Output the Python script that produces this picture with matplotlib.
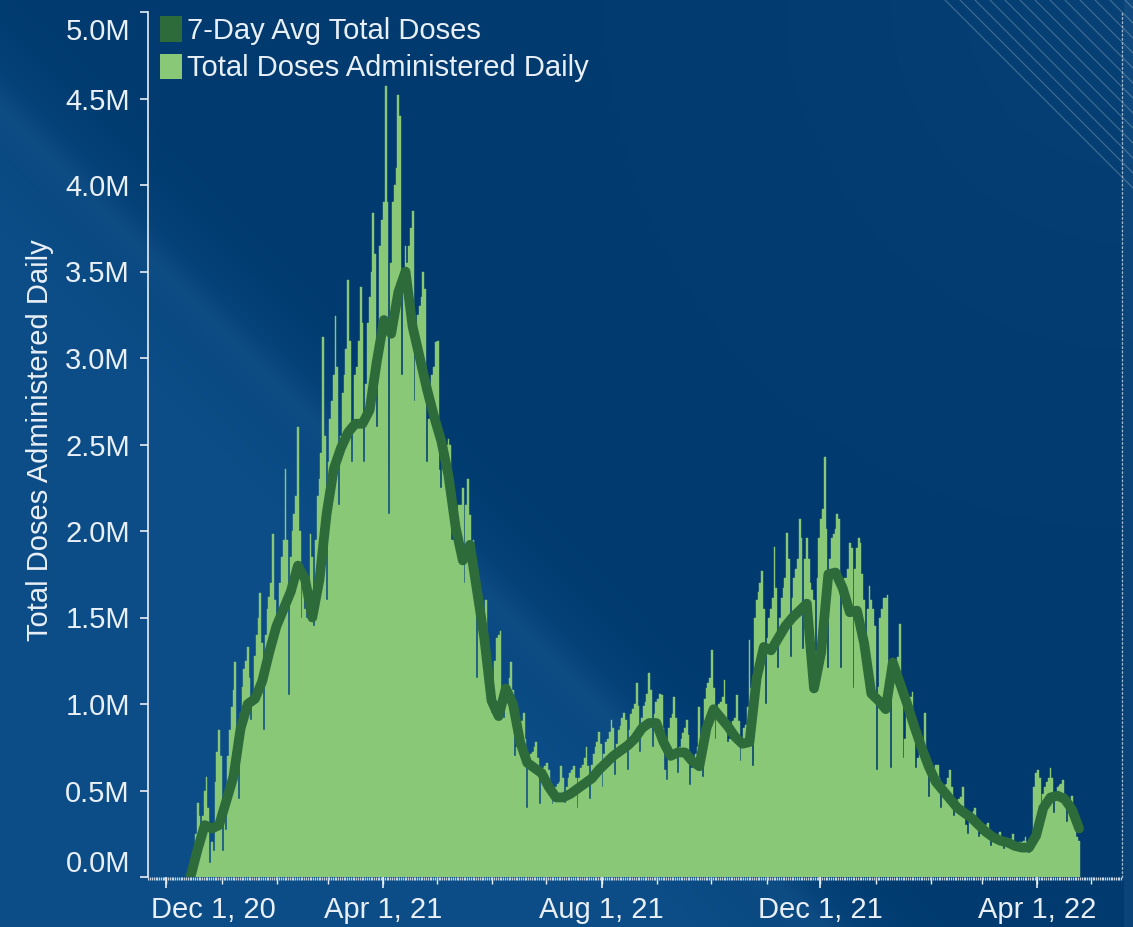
import numpy as np
import pandas as pd
import matplotlib
matplotlib.use("Agg")
import matplotlib.pyplot as plt
import matplotlib.dates as mdates
from matplotlib.patches import Patch
from matplotlib.transforms import ScaledTranslation
from matplotlib.ticker import FixedLocator, FuncFormatter

# ---------------- data ----------------
start_date = "2020-12-14"   # first day of data (a Monday)

# daily doses, millions; each row = one week Mon..Sun
doses_w00_w12 = [
    0.03, 0.10, 0.15, 0.25, 0.43, 0.35, 0.22,
    0.35, 0.50, 0.58, 0.40, 0.08, 0.20, 0.15,
    0.55, 0.72, 0.85, 0.70, 0.15, 0.35, 0.27,
    0.70, 0.85, 0.98, 1.08, 1.24, 0.80, 0.45,
    0.95, 1.10, 1.20, 1.25, 1.33, 1.15, 0.91,
    1.00, 1.28, 1.40, 1.50, 1.64, 1.35, 0.85,
    1.40, 1.55, 1.62, 1.70, 1.98, 1.60, 1.41,
    1.50, 1.70, 1.85, 1.95, 2.36, 1.95, 1.05,
    1.85, 2.00, 2.10, 2.20, 2.60, 2.00, 1.50,
    1.70, 1.55, 1.50, 1.62, 1.98, 1.85, 1.45,
    1.95, 2.20, 2.30, 2.45, 3.12, 2.55, 1.60,
    2.40, 2.65, 2.75, 2.90, 3.24, 2.95, 2.15,
    2.55, 2.80, 2.90, 3.05, 3.45, 3.10, 2.40,
]
doses_w13_w25 = [
    2.60, 2.90, 2.95, 3.10, 3.41, 3.20, 2.40,
    2.85, 3.20, 3.35, 3.50, 3.84, 3.60, 2.60,
    3.10, 3.65, 3.80, 3.90, 4.57, 3.90, 2.10,
    3.55, 3.90, 4.00, 4.10, 4.52, 4.40, 2.90,
    3.40, 3.65, 3.55, 3.65, 3.75, 3.85, 2.75,
    3.00, 3.25, 3.30, 3.35, 3.50, 3.40, 2.40,
    2.65, 2.85, 2.90, 2.95, 3.09, 3.10, 2.35,
    2.25, 2.40, 2.45, 2.50, 2.53, 2.50, 1.95,
    1.95, 2.10, 2.10, 2.15, 2.15, 2.25, 1.70,
    2.15, 2.30, 2.09, 1.85, 1.95, 1.60, 1.15,
    1.55, 1.60, 1.55, 1.50, 1.60, 1.30, 1.05,
    0.95, 1.10, 1.25, 1.38, 1.40, 1.42, 1.00,
    0.92, 1.03, 1.08, 1.15, 1.24, 1.08, 0.70,
]
doses_w26_w38 = [
    0.75, 0.82, 0.86, 0.90, 0.95, 0.80, 0.40,
    0.63, 0.71, 0.72, 0.75, 0.78, 0.69, 0.42,
    0.57, 0.63, 0.64, 0.66, 0.62, 0.52, 0.42,
    0.45, 0.52, 0.54, 0.55, 0.64, 0.57, 0.43,
    0.52, 0.57, 0.60, 0.62, 0.64, 0.57, 0.40,
    0.57, 0.63, 0.65, 0.69, 0.75, 0.64, 0.45,
    0.65, 0.71, 0.75, 0.78, 0.84, 0.77, 0.52,
    0.71, 0.78, 0.80, 0.84, 0.91, 0.86, 0.59,
    0.77, 0.85, 0.87, 0.92, 0.95, 0.91, 0.62,
    0.85, 0.94, 0.97, 1.00, 1.12, 0.99, 0.72,
    0.92, 0.99, 1.01, 1.06, 1.18, 1.08, 0.75,
    0.94, 1.01, 1.03, 1.06, 1.05, 0.86, 0.62,
    0.56, 0.86, 0.92, 0.94, 1.04, 0.92, 0.60,
]
doses_w39_w51 = [
    0.75, 0.80, 0.83, 0.86, 0.91, 0.82, 0.53,
    0.63, 0.69, 0.71, 0.75, 0.98, 0.80, 0.58,
    1.03, 1.09, 1.12, 1.15, 1.31, 1.09, 0.80,
    0.94, 1.00, 1.01, 1.04, 1.14, 1.00, 0.78,
    0.80, 0.87, 0.90, 0.92, 1.05, 0.90, 0.67,
    0.80, 0.86, 0.88, 0.98, 1.37, 1.09, 0.64,
    1.50, 1.60, 1.65, 1.70, 1.77, 1.55, 1.00,
    1.38, 1.50, 1.55, 1.61, 1.91, 1.67, 1.21,
    1.50, 1.61, 1.67, 1.73, 1.99, 1.84, 1.27,
    1.61, 1.73, 1.78, 1.84, 2.07, 1.96, 1.32,
    1.84, 1.96, 1.84, 1.70, 1.66, 1.60, 1.30,
    1.73, 1.96, 2.07, 2.13, 2.43, 2.01, 1.21,
    1.84, 1.96, 1.98, 2.01, 2.10, 2.07, 1.21,
]
doses_w52_w64 = [
    1.61, 1.73, 1.73, 1.78, 1.93, 1.90, 1.09,
    1.78, 1.90, 1.96, 1.93, 1.75, 1.60, 1.40,
    1.55, 1.68, 1.60, 1.55, 1.45, 0.62, 1.10,
    1.50, 1.55, 1.61, 1.61, 1.63, 1.15, 0.63,
    1.15, 1.21, 1.21, 1.27, 1.46, 1.04, 0.69,
    0.80, 0.98, 1.01, 1.04, 1.07, 0.92, 0.63,
    0.69, 0.75, 0.76, 0.78, 0.95, 0.69, 0.46,
    0.57, 0.61, 0.63, 0.65, 0.65, 0.57, 0.40,
    0.49, 0.53, 0.54, 0.57, 0.62, 0.52, 0.35,
    0.41, 0.44, 0.45, 0.46, 0.52, 0.40, 0.30,
    0.25, 0.36, 0.37, 0.38, 0.40, 0.34, 0.23,
    0.25, 0.28, 0.29, 0.30, 0.31, 0.28, 0.18,
    0.21, 0.23, 0.24, 0.24, 0.26, 0.23, 0.16,
]
doses_w65_w70 = [
    0.18, 0.21, 0.21, 0.22, 0.25, 0.20, 0.15,
    0.17, 0.20, 0.20, 0.21, 0.23, 0.20, 0.14,
    0.18, 0.23, 0.52, 0.60, 0.62, 0.57, 0.35,
    0.48, 0.52, 0.55, 0.57, 0.63, 0.57, 0.37,
    0.48, 0.52, 0.53, 0.54, 0.56, 0.48, 0.32,
    0.41, 0.44, 0.47, 0.35, 0.28, 0.23, 0.21,
]

# 7-day average, millions, read every 4th day starting at start_date
avg7_every4d_a = [
    0.00, 0.16, 0.30, 0.28, 0.30, 0.44, 0.58, 0.86, 1.00, 1.03,
    1.13, 1.30, 1.45, 1.55, 1.65, 1.80, 1.72, 1.50, 1.72, 2.10,
    2.36, 2.48, 2.57, 2.62, 2.62, 2.70, 2.98, 3.22, 3.14, 3.38,
    3.50, 3.18, 3.00, 2.82, 2.66, 2.52, 2.32, 2.02, 1.83, 1.92,
    1.65, 1.38, 1.02, 0.93, 1.09, 1.00, 0.78, 0.66, 0.63, 0.60,
    0.52, 0.46, 0.46, 0.48, 0.51, 0.54, 0.57, 0.62, 0.66, 0.70,
]
avg7_every4d_b = [
    0.73, 0.76, 0.80, 0.86, 0.89, 0.89, 0.78, 0.70, 0.72, 0.72,
    0.67, 0.64, 0.86, 0.97, 0.92, 0.87, 0.81, 0.77, 0.78, 1.15,
    1.33, 1.31, 1.38, 1.45, 1.50, 1.54, 1.58, 1.09, 1.30, 1.75,
    1.76, 1.67, 1.53, 1.54, 1.35, 1.06, 1.02, 0.97, 1.24, 1.12,
    1.00, 0.87, 0.75, 0.64, 0.55, 0.50, 0.45, 0.40, 0.37, 0.34,
    0.30, 0.26, 0.23, 0.21, 0.20, 0.18, 0.17, 0.17, 0.24, 0.40,
    0.46, 0.47, 0.45, 0.39, 0.28,
]

y_ticks = [0.0, 0.5, 1.0, 1.5, 2.0, 2.5, 3.0, 3.5, 4.0, 4.5, 5.0]
x_tick_dates = ["2020-12-01", "2021-04-01", "2021-08-01", "2021-12-01", "2022-04-01"]
x_tick_labels = ["Dec 1, 20", "Apr 1, 21", "Aug 1, 21", "Dec 1, 21", "Apr 1, 22"]
series_names = ["7-Day Avg Total Doses", "Total Doses Administered Daily"]
y_title = "Total Doses Administered Daily"

# ---------------- assemble ----------------
daily = np.array(doses_w00_w12 + doses_w13_w25 + doses_w26_w38 +
                 doses_w39_w51 + doses_w52_w64 + doses_w65_w70) * 1e6
dates = pd.date_range(start_date, periods=len(daily), freq="D")
avg7 = np.array(avg7_every4d_a + avg7_every4d_b) * 1e6
avg_dates = pd.date_range(start_date, periods=len(avg7), freq="4D") + pd.Timedelta(hours=12)

# ---------------- style ----------------
LIGHT_GREEN = "#88c877"
DARK_GREEN = "#2e6b3b"
TXT = "#e9eff6"
FS = 21
plt.rcParams["font.family"] = ["Liberation Sans", "DejaVu Sans"]

W, H = 1133, 927
fig = plt.figure(figsize=(W / 100, H / 100), dpi=100)

# background (styling only)
bg = fig.add_axes([0, 0, 1, 1], zorder=-10)
yy, xx = np.mgrid[0:H, 0:W].astype(float)
q = yy - xx
light = np.array([12, 77, 135]) / 255.0
dark = np.array([0, 58, 110]) / 255.0
t = np.clip((q + 60) / 300.0, 0, 1)
t = t * t * (3 - 2 * t)
img = dark[None, None, :] * (1 - t[..., None]) + light[None, None, :] * t[..., None]
img = img + 0.025 * np.exp(-((q - 110) / 25.0) ** 2)[..., None]
r = np.hypot(xx - W, yy)
img = img + 0.03 * np.exp(-r / 260.0)[..., None]
img[:, 1124:, :] = img[:, 1124:, :] + 0.035
img = np.clip(img, 0, 1)
bg.imshow(img, aspect="auto", extent=[0, W, H, 0], interpolation="bilinear")
for x0 in np.arange(945, 1140, 15):
    bg.plot([x0, x0 + 320], [0, 320], color="white", lw=0.8, alpha=0.25)
bg.set_xlim(0, W)
bg.set_ylim(H, 0)
bg.axis("off")

# main axes
ax = fig.add_axes([148 / W, 1 - 877 / H, (1122 - 148) / W, (877 - 12) / H])
ax.patch.set_alpha(0)

ax.bar(dates, daily, width=1.0, align="edge", color=LIGHT_GREEN,
       edgecolor=LIGHT_GREEN, linewidth=0.3, zorder=2)
ax.plot(avg_dates, avg7, color=DARK_GREEN, lw=7,
        solid_capstyle="round", solid_joinstyle="round", zorder=3)

t0 = pd.Timestamp(start_date)
ax.set_xlim(t0 - pd.Timedelta(days=23.2), t0 + pd.Timedelta(days=520.4))
ax.set_ylim(0, 5.0e6)

# y axis
ax.yaxis.set_major_locator(FixedLocator([v * 1e6 for v in y_ticks]))
ax.yaxis.set_major_formatter(FuncFormatter(lambda v, p: f"{v / 1e6:.1f}M"))
ax.tick_params(axis="y", colors=TXT, labelcolor=TXT, labelsize=FS,
               length=6, width=1.2, pad=7, direction="out")
for sp in ["top", "bottom"]:
    ax.spines[sp].set_visible(False)
ax.spines["left"].set_color(TXT)
ax.spines["left"].set_linewidth(1.2)
ax.spines["right"].set_color("#9fb6cc")
ax.spines["right"].set_linewidth(1.0)
ax.spines["right"].set_linestyle((0, (1, 2)))

# x axis
ax.xaxis.set_major_locator(FixedLocator(mdates.date2num(pd.to_datetime(x_tick_dates))))
ax.xaxis.set_major_formatter(FuncFormatter(
    lambda v, p: x_tick_labels[p] if p is not None and p < len(x_tick_labels) else ""))
ax.xaxis.set_minor_locator(mdates.DayLocator())
ax.tick_params(axis="x", which="major", colors=TXT, labelcolor=TXT, labelsize=FS,
               length=8, width=1.2, pad=6)
ax.tick_params(axis="x", which="minor", colors="#c9d6e3", length=2.2, width=0.9)

sec = ax.secondary_xaxis("bottom")
sec.xaxis.set_major_locator(mdates.MonthLocator())
sec.xaxis.set_major_formatter(FuncFormatter(lambda v, p: ""))
sec.tick_params(axis="x", colors=TXT, length=5, width=1.0)
for sp in sec.spines.values():
    sp.set_visible(False)

fig.canvas.draw()
xl = ax.get_xticklabels()
xl[0].set_transform(xl[0].get_transform() + ScaledTranslation(47 / 100, 0, fig.dpi_scale_trans))
yl = ax.get_yticklabels()
yl[0].set_transform(yl[0].get_transform() + ScaledTranslation(0, 16 / 100, fig.dpi_scale_trans))
yl[-1].set_transform(yl[-1].get_transform() + ScaledTranslation(0, -17 / 100, fig.dpi_scale_trans))

ax.set_ylabel(y_title, color=TXT, fontsize=FS)
ax.yaxis.set_label_coords(-0.096, 0.505)

handles = [Patch(facecolor=DARK_GREEN, edgecolor="none"),
           Patch(facecolor=LIGHT_GREEN, edgecolor="none")]
leg = ax.legend(handles, series_names, loc="upper left",
                bbox_to_anchor=(160 / W, 1 - 16 / H), bbox_transform=fig.transFigure,
                frameon=False, fontsize=FS, labelcolor=TXT, borderpad=0,
                borderaxespad=0, handlelength=0.76, handleheight=0.98,
                handletextpad=0.18, labelspacing=0.3)

fig.savefig("out.png", dpi=100)
